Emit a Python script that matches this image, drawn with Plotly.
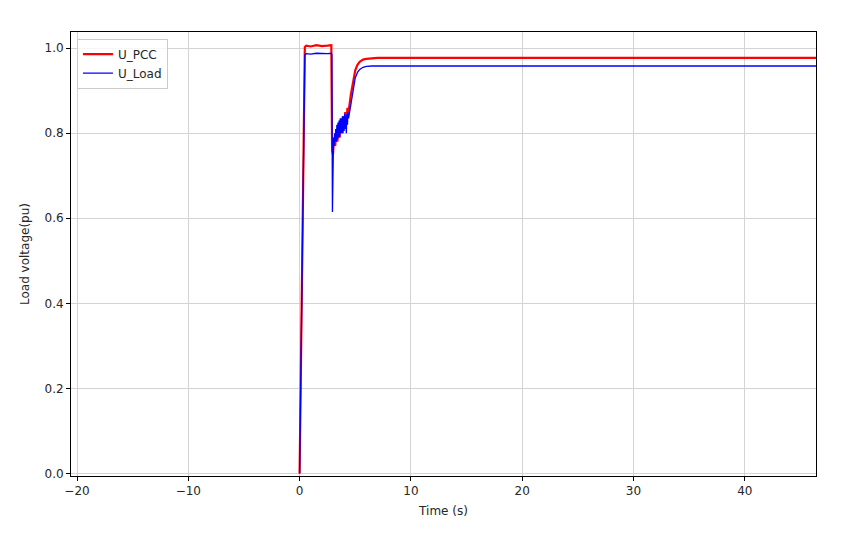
import plotly.graph_objects as go

# ---- data ----
t_pcc = [0.0, 0.47, 0.6, 1.0, 1.5, 2.0, 2.5, 2.85, 2.92, 3.0,
         3.1, 3.2, 3.3, 3.4, 3.5, 3.6, 3.7, 3.8, 3.9, 4.0, 4.1, 4.2, 4.3, 4.4,
         4.6, 4.8, 5.0, 5.2, 5.4, 5.7, 6.0, 6.5, 7.0, 10.0, 20.0, 30.0, 40.0, 47.0]
u_pcc = [0.0, 1.003, 1.006, 1.004, 1.007, 1.005, 1.006, 1.007, 0.76, 0.75,
         0.79, 0.77, 0.81, 0.78, 0.82, 0.79, 0.83, 0.80, 0.84, 0.81, 0.85, 0.82, 0.86, 0.85,
         0.89, 0.925, 0.948, 0.961, 0.968, 0.973, 0.975, 0.976, 0.977, 0.977, 0.977, 0.977, 0.977, 0.977]

t_load = [0.0, 0.47, 0.6, 1.0, 1.5, 2.0, 2.5, 2.86, 2.9, 2.95, 3.0,
          3.05, 3.1, 3.15, 3.2, 3.25, 3.3, 3.35, 3.4, 3.45, 3.5, 3.55, 3.6, 3.65, 3.7, 3.75,
          3.8, 3.85, 3.9, 3.95, 4.0, 4.05, 4.1, 4.15, 4.2, 4.25, 4.3, 4.35, 4.4,
          4.6, 4.8, 5.0, 5.2, 5.4, 5.7, 6.0, 6.5, 7.0, 10.0, 16.0, 16.3, 20.0, 30.0, 40.0, 47.0]
u_load = [0.0, 0.984, 0.987, 0.986, 0.988, 0.987, 0.987, 0.988, 0.985, 0.615, 0.74,
          0.79, 0.77, 0.80, 0.78, 0.81, 0.78, 0.82, 0.785, 0.825, 0.79, 0.83, 0.79, 0.835, 0.80, 0.835,
          0.80, 0.84, 0.80, 0.84, 0.805, 0.845, 0.81, 0.84, 0.80, 0.845, 0.82, 0.85, 0.835,
          0.87, 0.905, 0.93, 0.943, 0.950, 0.955, 0.957, 0.958, 0.958, 0.958, 0.958, 0.957, 0.958, 0.958, 0.958, 0.958]

x_ticks = [-20, -10, 0, 10, 20, 30, 40]
y_ticks = [0.0, 0.2, 0.4, 0.6, 0.8, 1.0]

fig = go.Figure()
fig.add_trace(go.Scatter(x=t_pcc, y=u_pcc, mode="lines", name="U_PCC",
                         line=dict(color="#ff0000", width=2.2)))
fig.add_trace(go.Scatter(x=t_load, y=u_load, mode="lines", name="U_Load",
                         line=dict(color="#0000ff", width=1.3)))

axis_common = dict(showline=True, linecolor="#000000", linewidth=1, mirror=True,
                   ticks="outside", ticklen=4, tickcolor="#000000", tickwidth=1,
                   showgrid=True, gridcolor="#d3d3d3", gridwidth=1, zeroline=False,
                   tickfont=dict(family="DejaVu Sans", size=12, color="#262626"))

fig.update_layout(
    width=859, height=550,
    margin=dict(l=63, r=51, t=24, b=82),
    paper_bgcolor="white", plot_bgcolor="white",
    font=dict(family="DejaVu Sans", size=12, color="#262626"),
    xaxis=dict(range=[-20.54, 46.4], tickvals=x_ticks,
               ticktext=["\u221220", "\u221210", "0", "10", "20", "30", "40"],
               title=dict(text="Time (s)", font=dict(size=12), standoff=9), **axis_common),
    yaxis=dict(range=[-0.006, 1.038], tickvals=y_ticks, ticktext=["0.0", "0.2", "0.4", "0.6", "0.8", "1.0"],
               title=dict(text="Load voltage(pu)", font=dict(size=12), standoff=12), **axis_common),
    legend=dict(x=0.008, y=0.985, xanchor="left", yanchor="top",
                bgcolor="rgba(255,255,255,0.8)", bordercolor="#cccccc", borderwidth=1,
                font=dict(size=12, color="#262626"), tracegroupgap=0,
                itemwidth=30),
    showlegend=True,
)

fig.write_html("out.html")
